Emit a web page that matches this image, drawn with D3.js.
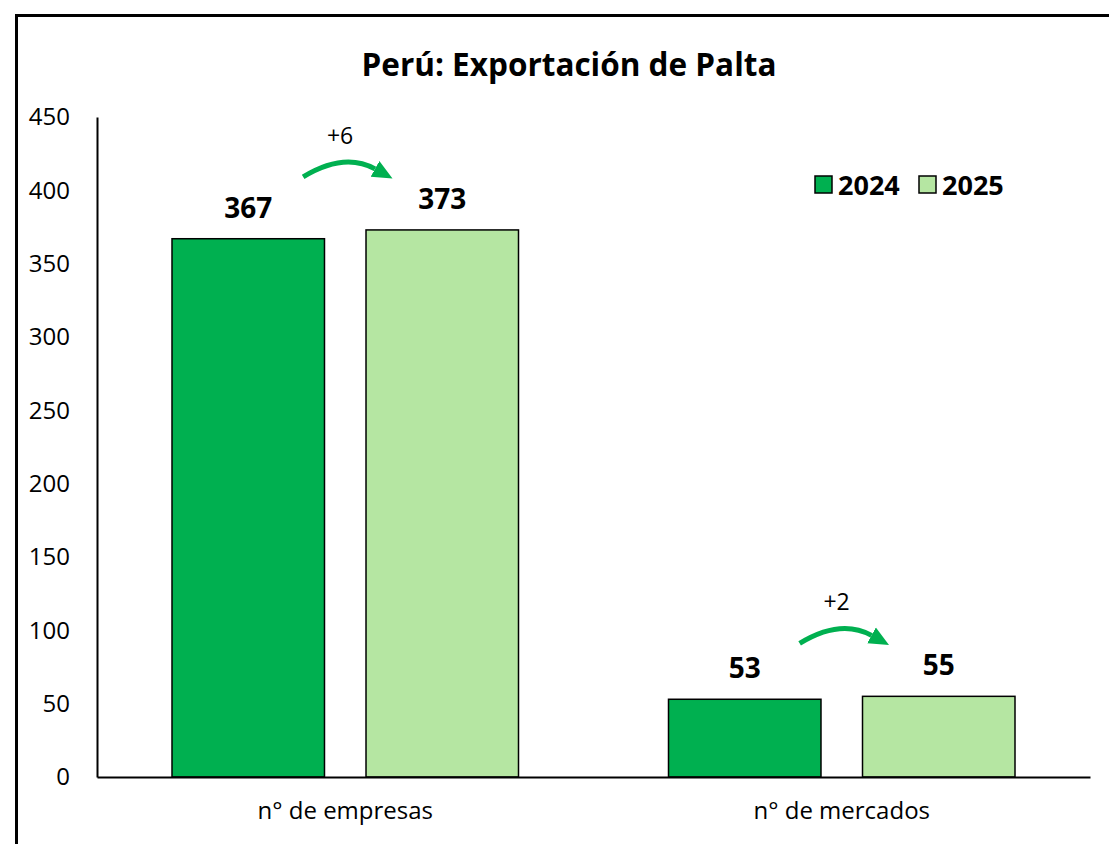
<!DOCTYPE html>
<html lang="es">
<head>
  <meta charset="UTF-8">
  <title>Perú: Exportación de Palta</title>
  <script src="https://d3js.org/d3.v7.min.js"></script>
  <style>
    body {
      margin: 0;
      padding: 0;
      background: #fff;
      font-family: 'Open Sans', sans-serif;
    }
    .axis path,
    .axis line {
      stroke: #000;
    }
    .axis text {
      font-family: 'Open Sans', sans-serif;
      fill: #000;
    }
  </style>
</head>
<body>
  <div id="chart"></div>
  <script>
    const categories = ["n° de empresas", "n° de mercados"];
    const years = ["2024", "2025"];
    const values2024 = [367, 53];
    const values2025 = [373, 55];
    const diffLabels = ["+6", "+2"];
    const yTicks = [0, 50, 100, 150, 200, 250, 300, 350, 400, 450];

    const colors = { "2024": "#00B050", "2025": "#B5E6A2" };
    const arrowColor = "#00B050";

    const width = 1109;
    const height = 844;
    const plot = { left: 97, right: 1090, top: 117, bottom: 777 };

    const svg = d3.select("#chart")
      .append("svg")
      .attr("width", width)
      .attr("height", height);

    // outer frame (runs off the right and bottom edges like the original)
    svg.append("rect")
      .attr("x", 16.5)
      .attr("y", 15.5)
      .attr("width", 1200)
      .attr("height", 1000)
      .attr("fill", "none")
      .attr("stroke", "#000")
      .attr("stroke-width", 3);

    const x0 = d3.scaleBand()
      .domain(categories)
      .range([plot.left, plot.right])
      .padding(0);

    const x1 = d3.scaleBand()
      .domain(years)
      .range([75, x0.bandwidth() - 75])
      .paddingInner(0.214);

    const y = d3.scaleLinear()
      .domain([0, 450])
      .range([plot.bottom, plot.top]);

    // y axis
    const yAxis = svg.append("g")
      .attr("class", "axis")
      .attr("transform", `translate(${plot.left},0)`)
      .call(d3.axisLeft(y).tickValues(yTicks).tickSize(0).tickPadding(27));
    yAxis.selectAll("text").style("font-size", "24px");
    yAxis.select(".domain").attr("stroke-width", 2);

    const rows = categories.map((c, i) => ({
      cat: c,
      vals: [
        { year: "2024", value: values2024[i] },
        { year: "2025", value: values2025[i] }
      ],
      diff: diffLabels[i]
    }));

    const groups = svg.selectAll(".cat")
      .data(rows)
      .enter()
      .append("g")
      .attr("class", "cat")
      .attr("transform", d => `translate(${x0(d.cat)},0)`);

    groups.selectAll("rect")
      .data(d => d.vals)
      .enter()
      .append("rect")
      .attr("x", d => x1(d.year))
      .attr("y", d => y(d.value))
      .attr("width", x1.bandwidth())
      .attr("height", d => y(0) - y(d.value))
      .attr("fill", d => colors[d.year])
      .attr("stroke", "#000")
      .attr("stroke-width", 1.5);

    groups.selectAll(".val")
      .data(d => d.vals)
      .enter()
      .append("text")
      .attr("class", "val")
      .attr("x", d => x1(d.year) + x1.bandwidth() / 2)
      .attr("y", d => y(d.value) - 21)
      .attr("text-anchor", "middle")
      .style("font-size", "28px")
      .style("font-weight", "bold")
      .text(d => d.value);

    // x axis
    const xAxis = svg.append("g")
      .attr("class", "axis")
      .attr("transform", `translate(0,${plot.bottom})`)
      .call(d3.axisBottom(x0).tickSize(0).tickPadding(25));
    xAxis.selectAll("text").style("font-size", "24px");
    xAxis.select(".domain").attr("stroke-width", 2);

    // arrows between years
    svg.append("defs").append("marker")
      .attr("id", "head")
      .attr("viewBox", "0 0 10 10")
      .attr("refX", 0)
      .attr("refY", 5)
      .attr("markerWidth", 4)
      .attr("markerHeight", 4)
      .attr("orient", "auto")
      .attr("markerUnits", "strokeWidth")
      .append("path")
      .attr("d", "M0,0.5 L10,5 L0,9.5 Z")
      .attr("fill", arrowColor);

    groups.each(function (d) {
      const g = d3.select(this);
      const bw = x1.bandwidth();
      const sx = x1("2024") + bw * 0.86;
      const ex = x1("2025") + 9;
      const base = y(d.vals[1].value) - 53;
      const cx = sx + 41;
      g.append("path")
        .attr("d", `M${sx},${base} Q${cx},${base - 25} ${ex},${base - 8}`)
        .attr("fill", "none")
        .attr("stroke", arrowColor)
        .attr("stroke-width", 5)
        .attr("marker-end", "url(#head)");
      g.append("text")
        .attr("x", (sx + ex) / 2 + 1)
        .attr("y", base - 33)
        .attr("text-anchor", "middle")
        .style("font-size", "23px")
        .text(d.diff);
    });

    // title
    svg.append("text")
      .attr("x", 569)
      .attr("y", 76)
      .attr("text-anchor", "middle")
      .style("font-size", "31.5px")
      .style("font-weight", "bold")
      .text("Perú: Exportación de Palta");

    // legend
    const legend = svg.append("g")
      .attr("transform", "translate(815,176)");
    const items = legend.selectAll("g")
      .data(years)
      .enter()
      .append("g")
      .attr("transform", (d, i) => `translate(${i * 104},0)`);
    items.append("rect")
      .attr("width", 17)
      .attr("height", 17)
      .attr("fill", d => colors[d])
      .attr("stroke", "#000")
      .attr("stroke-width", 1.5);
    items.append("text")
      .attr("x", 23)
      .attr("y", 18.5)
      .style("font-size", "27px")
      .style("font-weight", "bold")
      .text(d => d);
  </script>
</body>
</html>
